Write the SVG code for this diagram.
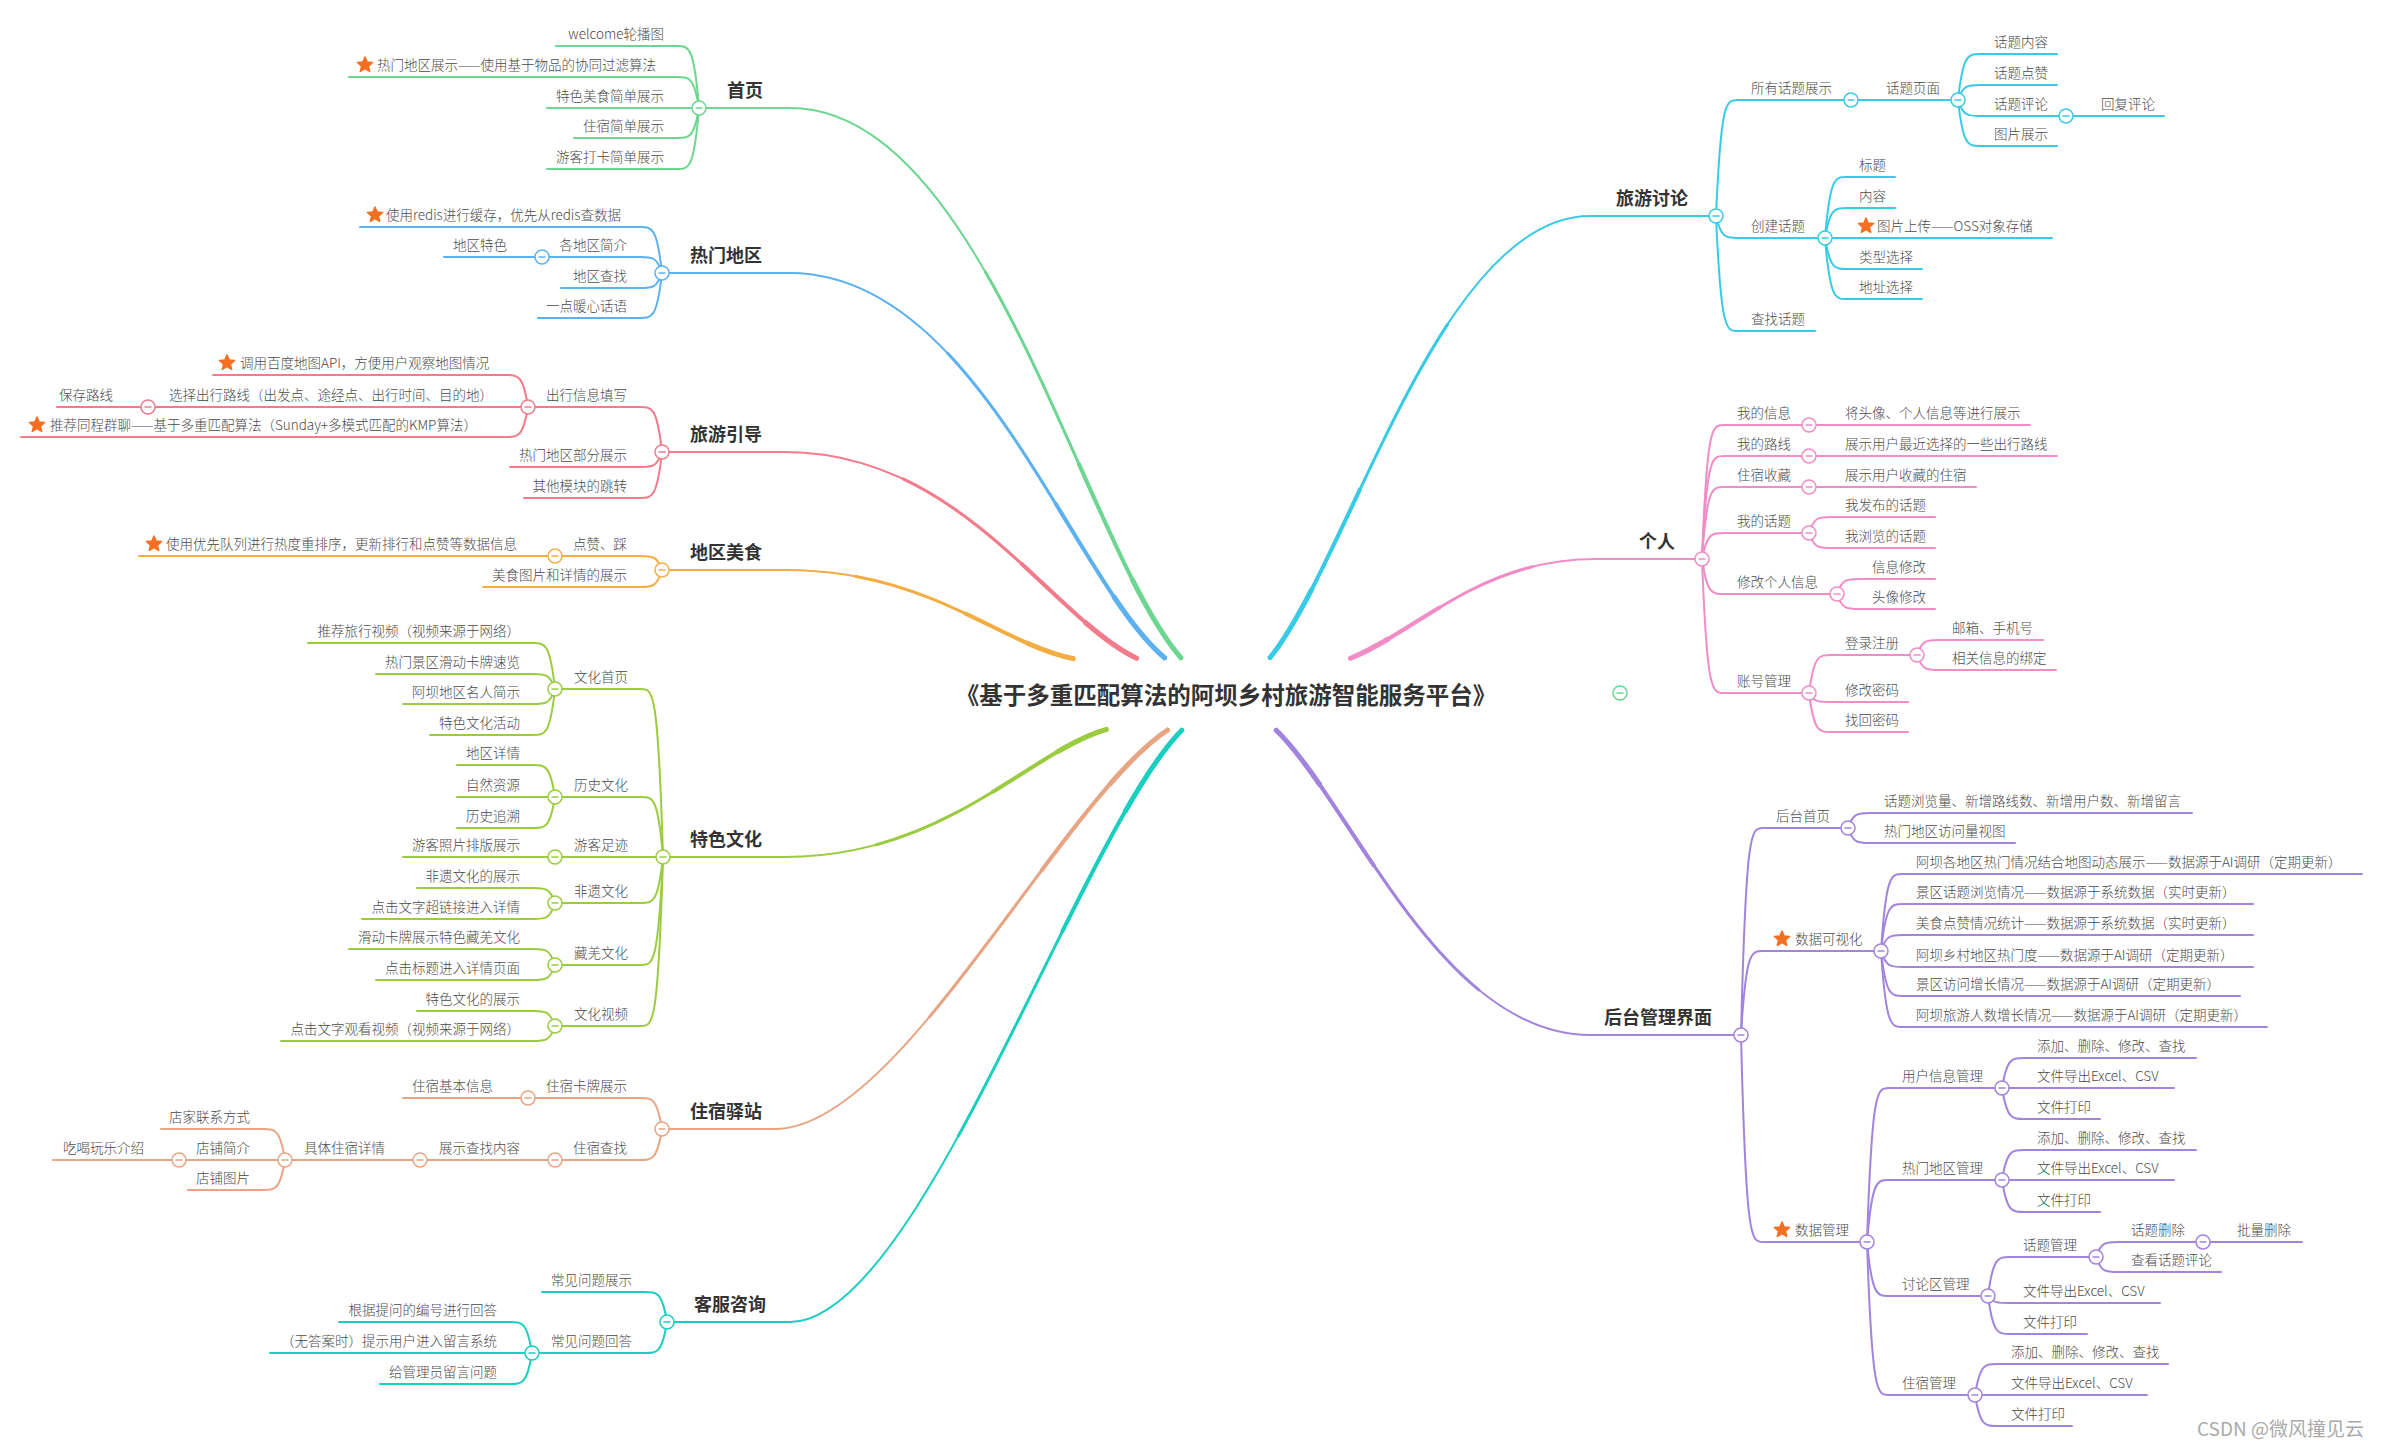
<svg xmlns="http://www.w3.org/2000/svg" xmlns:xlink="http://www.w3.org/1999/xlink" width="2384" height="1447" viewBox="0 0 2384 1447">
<style>
.t{font-family:"Noto Sans CJK SC","Noto Sans",sans-serif;font-size:13.5px;font-weight:300;fill:#4a4a4a}
.e{text-anchor:end}
.m{font-size:18px;font-weight:700;fill:#333}
.w0{stroke-width:2}
.w1{stroke-width:3;stroke-dasharray:0 45 55;stroke-linecap:butt}
.w2{stroke-width:4;stroke-dasharray:0 72 28;stroke-linecap:butt}
.w3{stroke-width:5;stroke-dasharray:0 88 12;stroke-linecap:butt}
.s1{color:#6dd690}.s2{color:#5cb1ef}.s3{color:#f27b8c}.s4{color:#f3ae43}.s5{color:#9bcc3f}
.s6{color:#e8a584}.s7{color:#18cfc0}.s8{color:#37cbe6}.s9{color:#f28cc6}.s10{color:#a283dd}
</style>
<defs>
<g id="cc"><circle r="7" fill="#fff" stroke="currentColor" stroke-width="1.5"/><path d="M-3.5,0h7" stroke="currentColor" stroke-width="1.5"/></g>
<path id="st" d="M0,-8 L2.116,-2.912 L7.608,-2.472 L3.424,1.112 L4.702,6.472 L0,3.6 L-4.702,6.472 L-3.424,1.112 L-7.608,-2.472 L-2.116,-2.912 Z" fill="#f46f21" stroke="#f46f21" stroke-width="1.5" stroke-linejoin="round"/>
<path id="mp1" pathLength="100" d="M699,108 H790 C986,108 1084,549 1182,659"/>
<path id="mp2" pathLength="100" d="M662,273 H790 C978,273 1072,582 1166,659"/>
<path id="mp3" pathLength="100" d="M662,452 H785 C962,452 1050,618 1138,659"/>
<path id="mp4" pathLength="100" d="M662,570 H785 C930,570 1000,645 1075,659"/>
<path id="mp5" pathLength="100" d="M663,857 H785 C946,857 1030,750 1108,729"/>
<path id="mp6" pathLength="100" d="M662,1129 H775 C900,1129 1060,800 1169,729"/>
<path id="mp7" pathLength="100" d="M667,1322 H790 C920,1322 1080,830 1183,729"/>
<path id="mp8" pathLength="100" d="M1716,216 H1590 C1440,216 1350,560 1269,659"/>
<path id="mp9" pathLength="100" d="M1702,559 H1596 C1480,559 1420,630 1349,659"/>
<path id="mp10" pathLength="100" d="M1741,1035 H1590 C1440,1035 1350,800 1275,729"/>
</defs>
<rect width="2384" height="1447" fill="#fff"/>
<g id="connectors" fill="none" stroke-width="2" stroke-linecap="round">
<g stroke="#6dd690">
<use href="#mp1" class="w0"/><use href="#mp1" class="w1"/><use href="#mp1" class="w2"/><use href="#mp1" class="w3"/>
<path d="M699,108 C694,46 689,46 677,46 H556"/>
<path d="M699,108 C694,77 689,77 677,77 H349"/>
<path d="M699,108 H547"/>
<path d="M699,108 C694,138 689,138 677,138 H574"/>
<path d="M699,108 C694,169 689,169 677,169 H547"/>
</g>
<g stroke="#5cb1ef">
<use href="#mp2" class="w0"/><use href="#mp2" class="w1"/><use href="#mp2" class="w2"/><use href="#mp2" class="w3"/>
<path d="M662,273 C657,227 652,227 640,227 H360"/>
<path d="M662,273 C657,257 652,257 640,257 H542"/>
<path d="M542,257 H444"/>
<path d="M662,273 C657,288 652,288 640,288 H561"/>
<path d="M662,273 C657,318 652,318 640,318 H538"/>
</g>
<g stroke="#f27b8c">
<use href="#mp3" class="w0"/><use href="#mp3" class="w1"/><use href="#mp3" class="w2"/><use href="#mp3" class="w3"/>
<path d="M662,452 C657,407 652,407 640,407 H528"/>
<path d="M528,407 C523,375 518,375 506,375 H213"/>
<path d="M528,407 H148"/>
<path d="M148,407 H57"/>
<path d="M528,407 C523,437 518,437 506,437 H21"/>
<path d="M662,452 C657,467 652,467 640,467 H510"/>
<path d="M662,452 C657,498 652,498 640,498 H524"/>
</g>
<g stroke="#f3ae43">
<use href="#mp4" class="w0"/><use href="#mp4" class="w1"/><use href="#mp4" class="w2"/><use href="#mp4" class="w3"/>
<path d="M662,570 C657,556 652,556 640,556 H555"/>
<path d="M555,556 H139"/>
<path d="M662,570 C657,587 652,587 640,587 H483"/>
</g>
<g stroke="#9bcc3f">
<use href="#mp5" class="w0"/><use href="#mp5" class="w1"/><use href="#mp5" class="w2"/><use href="#mp5" class="w3"/>
<path d="M663,857 C658,689 653,689 641,689 H555"/>
<path d="M555,689 C550,643 545,643 533,643 H308"/>
<path d="M555,689 C550,674 545,674 533,674 H376"/>
<path d="M555,689 C550,704 545,704 533,704 H403"/>
<path d="M555,689 C550,735 545,735 533,735 H430"/>
<path d="M663,857 C658,797 653,797 641,797 H555"/>
<path d="M555,797 C550,765 545,765 533,765 H457"/>
<path d="M555,797 H457"/>
<path d="M555,797 C550,828 545,828 533,828 H457"/>
<path d="M663,857 H555"/>
<path d="M555,857 H403"/>
<path d="M663,857 C658,903 653,903 641,903 H555"/>
<path d="M555,903 C550,888 545,888 533,888 H417"/>
<path d="M555,903 C550,919 545,919 533,919 H362"/>
<path d="M663,857 C658,965 653,965 641,965 H555"/>
<path d="M555,965 C550,949 545,949 533,949 H349"/>
<path d="M555,965 C550,980 545,980 533,980 H376"/>
<path d="M663,857 C658,1026 653,1026 641,1026 H555"/>
<path d="M555,1026 C550,1011 545,1011 533,1011 H417"/>
<path d="M555,1026 C550,1041 545,1041 533,1041 H281"/>
</g>
<g stroke="#e8a584">
<use href="#mp6" class="w0"/><use href="#mp6" class="w1"/><use href="#mp6" class="w2"/><use href="#mp6" class="w3"/>
<path d="M662,1129 C657,1098 652,1098 640,1098 H528"/>
<path d="M528,1098 H403"/>
<path d="M662,1129 C657,1160 652,1160 640,1160 H555"/>
<path d="M555,1160 H420"/>
<path d="M420,1160 H285"/>
<path d="M285,1160 C280,1129 275,1129 263,1129 H161"/>
<path d="M285,1160 H179"/>
<path d="M179,1160 H53"/>
<path d="M285,1160 C280,1190 275,1190 263,1190 H188"/>
</g>
<g stroke="#18cfc0">
<use href="#mp7" class="w0"/><use href="#mp7" class="w1"/><use href="#mp7" class="w2"/><use href="#mp7" class="w3"/>
<path d="M667,1322 C662,1292 657,1292 645,1292 H542"/>
<path d="M667,1322 C662,1353 657,1353 645,1353 H532"/>
<path d="M532,1353 C527,1322 522,1322 510,1322 H339"/>
<path d="M532,1353 H270"/>
<path d="M532,1353 C527,1384 522,1384 510,1384 H380"/>
</g>
<g stroke="#37cbe6">
<use href="#mp8" class="w0"/><use href="#mp8" class="w1"/><use href="#mp8" class="w2"/><use href="#mp8" class="w3"/>
<path d="M1716,216 C1721,100 1726,100 1738,100 H1851"/>
<path d="M1851,100 H1958"/>
<path d="M1958,100 C1963,54 1968,54 1980,54 H2057"/>
<path d="M1958,100 C1963,85 1968,85 1980,85 H2057"/>
<path d="M1958,100 C1963,116 1968,116 1980,116 H2066"/>
<path d="M2066,116 H2164"/>
<path d="M1958,100 C1963,146 1968,146 1980,146 H2057"/>
<path d="M1716,216 C1721,238 1726,238 1738,238 H1825"/>
<path d="M1825,238 C1830,177 1835,177 1847,177 H1895"/>
<path d="M1825,238 C1830,208 1835,208 1847,208 H1895"/>
<path d="M1825,238 H2052"/>
<path d="M1825,238 C1830,269 1835,269 1847,269 H1922"/>
<path d="M1825,238 C1830,299 1835,299 1847,299 H1922"/>
<path d="M1716,216 C1721,331 1726,331 1738,331 H1815"/>
</g>
<g stroke="#f28cc6">
<use href="#mp9" class="w0"/><use href="#mp9" class="w1"/><use href="#mp9" class="w2"/><use href="#mp9" class="w3"/>
<path d="M1702,559 C1707,425 1712,425 1724,425 H1809"/>
<path d="M1809,425 H2030"/>
<path d="M1702,559 C1707,456 1712,456 1724,456 H1809"/>
<path d="M1809,456 H2057"/>
<path d="M1702,559 C1707,487 1712,487 1724,487 H1809"/>
<path d="M1809,487 H1976"/>
<path d="M1702,559 C1707,533 1712,533 1724,533 H1809"/>
<path d="M1809,533 C1814,517 1819,517 1831,517 H1935"/>
<path d="M1809,533 C1814,548 1819,548 1831,548 H1935"/>
<path d="M1702,559 C1707,594 1712,594 1724,594 H1837"/>
<path d="M1837,594 C1842,579 1847,579 1859,579 H1935"/>
<path d="M1837,594 C1842,609 1847,609 1859,609 H1935"/>
<path d="M1702,559 C1707,693 1712,693 1724,693 H1809"/>
<path d="M1809,693 C1814,655 1819,655 1831,655 H1917"/>
<path d="M1917,655 C1922,640 1927,640 1939,640 H2043"/>
<path d="M1917,655 C1922,670 1927,670 1939,670 H2056"/>
<path d="M1809,693 C1814,702 1819,702 1831,702 H1908"/>
<path d="M1809,693 C1814,732 1819,732 1831,732 H1908"/>
</g>
<g stroke="#a283dd">
<use href="#mp10" class="w0"/><use href="#mp10" class="w1"/><use href="#mp10" class="w2"/><use href="#mp10" class="w3"/>
<path d="M1741,1035 C1746,828 1751,828 1763,828 H1848"/>
<path d="M1848,828 C1853,813 1858,813 1870,813 H2192"/>
<path d="M1848,828 C1853,843 1858,843 1870,843 H2015"/>
<path d="M1741,1035 C1746,951 1751,951 1763,951 H1881"/>
<path d="M1881,951 C1886,874 1891,874 1903,874 H2362"/>
<path d="M1881,951 C1886,904 1891,904 1903,904 H2253"/>
<path d="M1881,951 C1886,935 1891,935 1903,935 H2253"/>
<path d="M1881,951 C1886,967 1891,967 1903,967 H2253"/>
<path d="M1881,951 C1886,996 1891,996 1903,996 H2240"/>
<path d="M1881,951 C1886,1027 1891,1027 1903,1027 H2267"/>
<path d="M1741,1035 C1746,1242 1751,1242 1763,1242 H1867"/>
<path d="M1867,1242 C1872,1088 1877,1088 1889,1088 H2002"/>
<path d="M2002,1088 C2007,1058 2012,1058 2024,1058 H2196"/>
<path d="M2002,1088 H2174"/>
<path d="M2002,1088 C2007,1119 2012,1119 2024,1119 H2100"/>
<path d="M1867,1242 C1872,1180 1877,1180 1889,1180 H2002"/>
<path d="M2002,1180 C2007,1150 2012,1150 2024,1150 H2196"/>
<path d="M2002,1180 H2174"/>
<path d="M2002,1180 C2007,1212 2012,1212 2024,1212 H2100"/>
<path d="M1867,1242 C1872,1296 1877,1296 1889,1296 H1988"/>
<path d="M1988,1296 C1993,1257 1998,1257 2010,1257 H2096"/>
<path d="M2096,1257 C2101,1242 2106,1242 2118,1242 H2203"/>
<path d="M2203,1242 H2302"/>
<path d="M2096,1257 C2101,1272 2106,1272 2118,1272 H2221"/>
<path d="M1988,1296 C1993,1303 1998,1303 2010,1303 H2160"/>
<path d="M1988,1296 C1993,1334 1998,1334 2010,1334 H2087"/>
<path d="M1867,1242 C1872,1395 1877,1395 1889,1395 H1975"/>
<path d="M1975,1395 C1980,1364 1985,1364 1997,1364 H2168"/>
<path d="M1975,1395 H2147"/>
<path d="M1975,1395 C1980,1426 1985,1426 1997,1426 H2072"/>
</g>
</g>

<g id="root"><text class="t" x="1226" y="704" text-anchor="middle" style="font-size:23.5px;font-weight:700;fill:#333">《基于多重匹配算法的阿坝乡村旅游智能服务平台》</text><use href="#cc" x="1620" y="693" class="s1"/></g>

<g id="home"><text class="t m" x="727" y="97">首页</text><use href="#cc" x="699" y="108" class="s1"/></g>
<g id="home-1"><text class="t e" x="664" y="39">welcome轮播图</text></g>
<g id="home-2"><use href="#st" x="365" y="65"/><text class="t" x="377" y="70">热门地区展示——使用基于物品的协同过滤算法</text></g>
<g id="home-3"><text class="t e" x="664" y="101">特色美食简单展示</text></g>
<g id="home-4"><text class="t e" x="664" y="131">住宿简单展示</text></g>
<g id="home-5"><text class="t e" x="664" y="162">游客打卡简单展示</text></g>

<g id="hot"><text class="t m" x="690" y="262">热门地区</text><use href="#cc" x="662" y="273" class="s2"/></g>
<g id="hot-1"><use href="#st" x="375" y="215"/><text class="t" x="386" y="220">使用redis进行缓存，优先从redis查数据</text></g>
<g id="hot-2"><text class="t e" x="627" y="250">各地区简介</text><use href="#cc" x="542" y="257" class="s2"/></g>
<g id="hot-2-1"><text class="t e" x="507" y="250">地区特色</text></g>
<g id="hot-3"><text class="t e" x="627" y="281">地区查找</text></g>
<g id="hot-4"><text class="t e" x="627" y="311">一点暖心话语</text></g>

<g id="guide"><text class="t m" x="690" y="441">旅游引导</text><use href="#cc" x="662" y="452" class="s3"/></g>
<g id="guide-1"><text class="t e" x="627" y="400">出行信息填写</text><use href="#cc" x="528" y="407" class="s3"/></g>
<g id="guide-1-1"><use href="#st" x="227" y="363"/><text class="t" x="240" y="368">调用百度地图API，方便用户观察地图情况</text></g>
<g id="guide-1-2"><text class="t e" x="493" y="400">选择出行路线（出发点、途经点、出行时间、目的地）</text><use href="#cc" x="148" y="407" class="s3"/></g>
<g id="guide-1-2-1"><text class="t e" x="113" y="400">保存路线</text></g>
<g id="guide-1-3"><use href="#st" x="37" y="425"/><text class="t" x="50" y="430">推荐同程群聊——基于多重匹配算法（Sunday+多模式匹配的KMP算法）</text></g>
<g id="guide-2"><text class="t e" x="627" y="460">热门地区部分展示</text></g>
<g id="guide-3"><text class="t e" x="627" y="491">其他模块的跳转</text></g>

<g id="food"><text class="t m" x="690" y="559">地区美食</text><use href="#cc" x="662" y="570" class="s4"/></g>
<g id="food-1"><text class="t e" x="627" y="549">点赞、踩</text><use href="#cc" x="555" y="556" class="s4"/></g>
<g id="food-1-1"><use href="#st" x="154" y="544"/><text class="t" x="166" y="549">使用优先队列进行热度重排序，更新排行和点赞等数据信息</text></g>
<g id="food-2"><text class="t e" x="627" y="580">美食图片和详情的展示</text></g>

<g id="culture"><text class="t m" x="690" y="846">特色文化</text><use href="#cc" x="663" y="857" class="s5"/></g>
<g id="cul-1"><text class="t e" x="628" y="682">文化首页</text><use href="#cc" x="555" y="689" class="s5"/></g>
<g id="cul-1-l"><text class="t e" x="520" y="636">推荐旅行视频（视频来源于网络）</text><text class="t e" x="520" y="667">热门景区滑动卡牌速览</text><text class="t e" x="520" y="697">阿坝地区名人简示</text><text class="t e" x="520" y="728">特色文化活动</text></g>
<g id="cul-2"><text class="t e" x="628" y="790">历史文化</text><use href="#cc" x="555" y="797" class="s5"/></g>
<g id="cul-2-l"><text class="t e" x="520" y="758">地区详情</text><text class="t e" x="520" y="790">自然资源</text><text class="t e" x="520" y="821">历史追溯</text></g>
<g id="cul-3"><text class="t e" x="628" y="850">游客足迹</text><use href="#cc" x="555" y="857" class="s5"/></g>
<g id="cul-3-l"><text class="t e" x="520" y="850">游客照片排版展示</text></g>
<g id="cul-4"><text class="t e" x="628" y="896">非遗文化</text><use href="#cc" x="555" y="903" class="s5"/></g>
<g id="cul-4-l"><text class="t e" x="520" y="881">非遗文化的展示</text><text class="t e" x="520" y="912">点击文字超链接进入详情</text></g>
<g id="cul-5"><text class="t e" x="628" y="958">藏羌文化</text><use href="#cc" x="555" y="965" class="s5"/></g>
<g id="cul-5-l"><text class="t e" x="520" y="942">滑动卡牌展示特色藏羌文化</text><text class="t e" x="520" y="973">点击标题进入详情页面</text></g>
<g id="cul-6"><text class="t e" x="628" y="1019">文化视频</text><use href="#cc" x="555" y="1026" class="s5"/></g>
<g id="cul-6-l"><text class="t e" x="520" y="1004">特色文化的展示</text><text class="t e" x="520" y="1034">点击文字观看视频（视频来源于网络）</text></g>

<g id="stay"><text class="t m" x="690" y="1118">住宿驿站</text><use href="#cc" x="662" y="1129" class="s6"/></g>
<g id="stay-1"><text class="t e" x="627" y="1091">住宿卡牌展示</text><use href="#cc" x="528" y="1098" class="s6"/></g>
<g id="stay-1-1"><text class="t e" x="493" y="1091">住宿基本信息</text></g>
<g id="stay-2"><text class="t e" x="627" y="1153">住宿查找</text><use href="#cc" x="555" y="1160" class="s6"/></g>
<g id="stay-2-1"><text class="t e" x="520" y="1153">展示查找内容</text><use href="#cc" x="420" y="1160" class="s6"/></g>
<g id="stay-2-2"><text class="t e" x="385" y="1153">具体住宿详情</text><use href="#cc" x="285" y="1160" class="s6"/></g>
<g id="stay-2-3"><text class="t e" x="250" y="1122">店家联系方式</text></g>
<g id="stay-2-4"><text class="t e" x="250" y="1153">店铺简介</text><use href="#cc" x="179" y="1160" class="s6"/></g>
<g id="stay-2-5"><text class="t e" x="144" y="1153">吃喝玩乐介绍</text></g>
<g id="stay-2-6"><text class="t e" x="250" y="1183">店铺图片</text></g>

<g id="service"><text class="t m" x="694" y="1311">客服咨询</text><use href="#cc" x="667" y="1322" class="s7"/></g>
<g id="svc-1"><text class="t e" x="632" y="1285">常见问题展示</text></g>
<g id="svc-2"><text class="t e" x="632" y="1346">常见问题回答</text><use href="#cc" x="532" y="1353" class="s7"/></g>
<g id="svc-2-l"><text class="t e" x="497" y="1315">根据提问的编号进行回答</text><text class="t e" x="497" y="1346">（无答案时）提示用户进入留言系统</text><text class="t e" x="497" y="1377">给管理员留言问题</text></g>

<g id="forum"><text class="t m" x="1616" y="205">旅游讨论</text><use href="#cc" x="1716" y="216" class="s8"/></g>
<g id="forum-1"><text class="t" x="1751" y="93">所有话题展示</text><use href="#cc" x="1851" y="100" class="s8"/></g>
<g id="forum-1-1"><text class="t" x="1886" y="93">话题页面</text><use href="#cc" x="1958" y="100" class="s8"/></g>
<g id="forum-1-l"><text class="t" x="1994" y="47">话题内容</text><text class="t" x="1994" y="78">话题点赞</text><text class="t" x="1994" y="139">图片展示</text></g>
<g id="forum-1-c"><text class="t" x="1994" y="109">话题评论</text><use href="#cc" x="2066" y="116" class="s8"/></g>
<g id="forum-1-r"><text class="t" x="2101" y="109">回复评论</text></g>
<g id="forum-2"><text class="t" x="1751" y="231">创建话题</text><use href="#cc" x="1825" y="238" class="s8"/></g>
<g id="forum-2-l"><text class="t" x="1859" y="170">标题</text><text class="t" x="1859" y="201">内容</text><text class="t" x="1859" y="262">类型选择</text><text class="t" x="1859" y="292">地址选择</text></g>
<g id="forum-2-s"><use href="#st" x="1866" y="226"/><text class="t" x="1877" y="231">图片上传——OSS对象存储</text></g>
<g id="forum-3"><text class="t" x="1751" y="324">查找话题</text></g>

<g id="me"><text class="t m" x="1639" y="548">个人</text><use href="#cc" x="1702" y="559" class="s9"/></g>
<g id="me-1"><text class="t" x="1737" y="418">我的信息</text><use href="#cc" x="1809" y="425" class="s9"/><text class="t" x="1845" y="418">将头像、个人信息等进行展示</text></g>
<g id="me-2"><text class="t" x="1737" y="449">我的路线</text><use href="#cc" x="1809" y="456" class="s9"/><text class="t" x="1845" y="449">展示用户最近选择的一些出行路线</text></g>
<g id="me-3"><text class="t" x="1737" y="480">住宿收藏</text><use href="#cc" x="1809" y="487" class="s9"/><text class="t" x="1845" y="480">展示用户收藏的住宿</text></g>
<g id="me-4"><text class="t" x="1737" y="526">我的话题</text><use href="#cc" x="1809" y="533" class="s9"/><text class="t" x="1845" y="510">我发布的话题</text><text class="t" x="1845" y="541">我浏览的话题</text></g>
<g id="me-5"><text class="t" x="1737" y="587">修改个人信息</text><use href="#cc" x="1837" y="594" class="s9"/><text class="t" x="1872" y="572">信息修改</text><text class="t" x="1872" y="602">头像修改</text></g>
<g id="me-6"><text class="t" x="1737" y="686">账号管理</text><use href="#cc" x="1809" y="693" class="s9"/></g>
<g id="me-6-1"><text class="t" x="1845" y="648">登录注册</text><use href="#cc" x="1917" y="655" class="s9"/><text class="t" x="1952" y="633">邮箱、手机号</text><text class="t" x="1952" y="663">相关信息的绑定</text></g>
<g id="me-6-2"><text class="t" x="1845" y="695">修改密码</text><text class="t" x="1845" y="725">找回密码</text></g>

<g id="admin"><text class="t m" x="1604" y="1024">后台管理界面</text><use href="#cc" x="1741" y="1035" class="s10"/></g>
<g id="adm-1"><text class="t" x="1776" y="821">后台首页</text><use href="#cc" x="1848" y="828" class="s10"/><text class="t" x="1884" y="806">话题浏览量、新增路线数、新增用户数、新增留言</text><text class="t" x="1884" y="836">热门地区访问量视图</text></g>
<g id="adm-2"><use href="#st" x="1782" y="939"/><text class="t" x="1795" y="944">数据可视化</text><use href="#cc" x="1881" y="951" class="s10"/></g>
<g id="adm-2-l"><text class="t" x="1916" y="867">阿坝各地区热门情况结合地图动态展示——数据源于AI调研（定期更新）</text><text class="t" x="1916" y="897">景区话题浏览情况——数据源于系统数据（实时更新）</text><text class="t" x="1916" y="928">美食点赞情况统计——数据源于系统数据（实时更新）</text><text class="t" x="1916" y="960">阿坝乡村地区热门度——数据源于AI调研（定期更新）</text><text class="t" x="1916" y="989">景区访问增长情况——数据源于AI调研（定期更新）</text><text class="t" x="1916" y="1020">阿坝旅游人数增长情况——数据源于AI调研（定期更新）</text></g>
<g id="adm-3"><use href="#st" x="1782" y="1230"/><text class="t" x="1795" y="1235">数据管理</text><use href="#cc" x="1867" y="1242" class="s10"/></g>
<g id="adm-3-1"><text class="t" x="1902" y="1081">用户信息管理</text><use href="#cc" x="2002" y="1088" class="s10"/><text class="t" x="2037" y="1051">添加、删除、修改、查找</text><text class="t" x="2037" y="1081">文件导出Excel、CSV</text><text class="t" x="2037" y="1112">文件打印</text></g>
<g id="adm-3-2"><text class="t" x="1902" y="1173">热门地区管理</text><use href="#cc" x="2002" y="1180" class="s10"/><text class="t" x="2037" y="1143">添加、删除、修改、查找</text><text class="t" x="2037" y="1173">文件导出Excel、CSV</text><text class="t" x="2037" y="1205">文件打印</text></g>
<g id="adm-3-3"><text class="t" x="1902" y="1289">讨论区管理</text><use href="#cc" x="1988" y="1296" class="s10"/><text class="t" x="2023" y="1296">文件导出Excel、CSV</text><text class="t" x="2023" y="1327">文件打印</text></g>
<g id="adm-3-3-1"><text class="t" x="2023" y="1250">话题管理</text><use href="#cc" x="2096" y="1257" class="s10"/><text class="t" x="2131" y="1265">查看话题评论</text></g>
<g id="adm-3-3-2"><text class="t" x="2131" y="1235">话题删除</text><use href="#cc" x="2203" y="1242" class="s10"/><text class="t" x="2237" y="1235">批量删除</text></g>
<g id="adm-3-4"><text class="t" x="1902" y="1388">住宿管理</text><use href="#cc" x="1975" y="1395" class="s10"/><text class="t" x="2011" y="1357">添加、删除、修改、查找</text><text class="t" x="2011" y="1388">文件导出Excel、CSV</text><text class="t" x="2011" y="1419">文件打印</text></g>

<text class="t" x="2197" y="1436" style="font-size:19px;font-weight:400;fill:#aaa">CSDN @微风撞见云</text>
</svg>
